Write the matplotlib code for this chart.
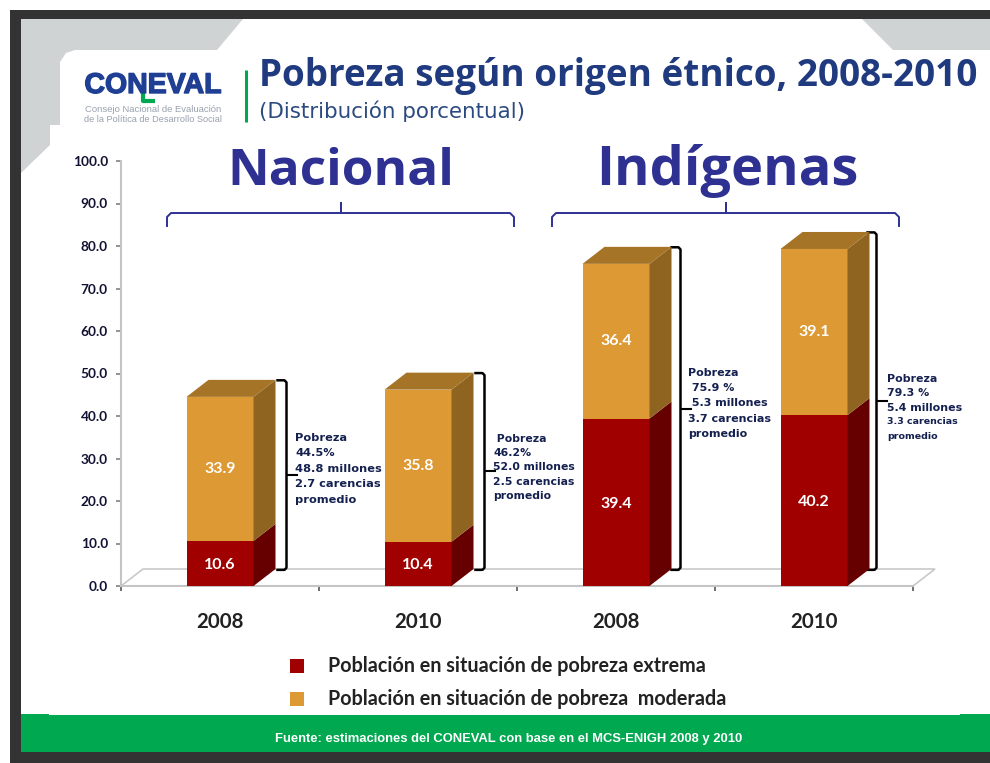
import matplotlib
matplotlib.use('Agg')
import matplotlib.pyplot as plt
from matplotlib.patches import Rectangle, Polygon
import matplotlib.patheffects as pe

# data
years = ['2008', '2010', '2008', '2010']
extrema = [10.6, 10.4, 39.4, 40.2]
moderada = [33.9, 35.8, 36.4, 39.1]
y_ticks = [0, 10, 20, 30, 40, 50, 60, 70, 80, 90, 100]
notas = [
    ['Pobreza', '44.5%', '48.8 millones', '2.7 carencias', 'promedio'],
    [' Pobreza', '46.2%', '52.0 millones', '2.5 carencias', 'promedio'],
    ['Pobreza', ' 75.9 %', ' 5.3 millones', '3.7 carencias', 'promedio'],
    ['Pobreza', '79.3 %', '5.4 millones', '3.3 carencias', 'promedio'],
]
grupos = ['Nacional', 'Indígenas']
leyenda = ['Población en situación de pobreza extrema',
           'Población en situación de pobreza  moderada']

ROJO, ROJO_LADO = '#a00000', '#660000'
NARANJA, NARANJA_LADO, NARANJA_TOPE = '#dd9933', '#8f6420', '#a67426'
AZUL = '#2e3192'
TITULO = '#1f3a7f'
VERDE = '#00a94f'
MARCO = '#333333'
GRIS = '#cfd3d4'

fig = plt.figure(figsize=(9.9, 7.63), dpi=100, facecolor='white')

# page decoration, in pixels of the slide
bg = fig.add_axes([0, 0, 1, 1], zorder=0)
bg.set_xlim(0, 990)
bg.set_ylim(763, 0)
bg.axis('off')

bg.add_patch(Rectangle((10, 10), 980, 753, fc=MARCO, ec='none'))
bg.add_patch(Rectangle((21, 19), 969, 733, fc='white', ec='none'))
bg.add_patch(Polygon([(21, 19), (243, 19), (217, 50), (75, 50), (66, 53), (60, 62),
                      (60, 125), (50, 125), (50, 145), (21, 173)], fc=GRIS, ec='none'))
bg.add_patch(Polygon([(862, 19), (990, 19), (990, 50), (893, 50)], fc=GRIS, ec='none'))
bg.add_patch(Rectangle((21, 714), 969, 38, fc=VERDE, ec='none'))
bg.add_patch(Rectangle((49, 712), 911, 3, fc='white', ec='none'))

# logo
bg.text(153, 93, 'CONEVAL', fontsize=20.5, fontweight='bold', color='#1f3f94',
        family='Liberation Sans', ha='center', va='baseline',
        path_effects=[pe.withStroke(linewidth=1, foreground='#1f3f94')])
bg.plot([143, 143, 155], [88, 101, 101], color=VERDE, lw=3, solid_capstyle='butt')
bg.text(153, 109, 'Consejo Nacional de Evaluación', fontsize=6.8, color='#9aa0ad',
        family='Liberation Sans', ha='center', va='center')
bg.text(153, 119, 'de la Política de Desarrollo Social', fontsize=6.6, color='#9aa0ad',
        family='Liberation Sans', ha='center', va='center')
bg.plot([246, 246], [70, 122], color=VERDE, lw=2.2, solid_capstyle='butt')

bg.text(259, 86, 'Pobreza según origen étnico, 2008-2010', fontsize=26.6, fontweight='bold',
        color=TITULO, family='Open Sans', ha='left', va='baseline')
bg.text(259, 118, '(Distribución porcentual)', fontsize=15.4, color='#2b4a80',
        family='DejaVu Sans', ha='left', va='baseline')

# group titles and their blue braces
for nombre, size, xc, xt, x0, x1 in zip(grupos, [37, 39], [341, 726], [341, 727], [167, 552], [514, 899]):
    bg.text(xt, 185, nombre, fontsize=size, fontweight='bold', color=AZUL,
            family='Open Sans', ha='center', va='baseline')
    bg.plot([x0, x0, x0 + 4, xc, xc, xc, x1 - 4, x1, x1], [226, 217, 213, 213, 203, 213, 213, 217, 226],
            color=AZUL, lw=1.4)

# legend and source
for nombre, col, y in zip(leyenda, [ROJO, NARANJA], [666, 699]):
    bg.add_patch(Rectangle((289.5, y - 7), 14, 14, fc=col, ec='none'))
    bg.text(328, y, nombre, fontsize=14.2, fontweight='bold', color='#222222',
            family='Lato', ha='left', va='center')
bg.text(509, 739, 'Fuente: estimaciones del CONEVAL con base en el MCS-ENIGH 2008 y 2010',
        fontsize=9.4, fontweight='bold', color='white', family='Liberation Sans',
        ha='center', va='center')

# chart: one x unit is a 198 px slot, y axis 4.25 px per point
ax = fig.add_axes([121 / 990, (763 - 586) / 763, 792 / 990, 425 / 763], zorder=1)
ax.patch.set_alpha(0)
ax.set_xlim(0, 4)
ax.set_ylim(0, 100)
for s in ['top', 'right']:
    ax.spines[s].set_visible(False)
for s in ['left', 'bottom']:
    ax.spines[s].set_color('#c4c4c4')
    ax.spines[s].set_linewidth(1.5)

dx = 22 / 198
dy = 4.0
ancho = 67 / 198
px = 1 / 198

# floor
ax.add_patch(Polygon([(0, 0), (dx, dy), (4 + dx, dy), (4, 0)], closed=True, fc='white',
                     ec='#c9c9c9', lw=1.2, clip_on=False, zorder=1))

pos = [i + 0.5 for i in range(4)]
ax.bar(pos, extrema, ancho, color=ROJO, zorder=3)
ax.bar(pos, moderada, ancho, bottom=extrema, color=NARANJA, zorder=3)

for i in range(4):
    x1 = pos[i] + ancho / 2
    x0 = pos[i] - ancho / 2
    base = extrema[i]
    top = extrema[i] + moderada[i]
    ax.fill([x1, x1 + dx, x1 + dx, x1], [0, dy, base + dy, base], color=ROJO_LADO, lw=0, zorder=3, clip_on=False)
    ax.fill([x1, x1 + dx, x1 + dx, x1], [base, base + dy, top + dy, top], color=NARANJA_LADO, lw=0, zorder=3, clip_on=False)
    ax.fill([x0, x1, x1 + dx, x0 + dx], [top, top, top + dy, top + dy], color=NARANJA_TOPE, lw=0, zorder=3, clip_on=False)

    ax.text(pos[i], base / 2 - 0.3, '%.1f' % extrema[i], color='white', fontsize=11.5,
            fontweight='bold', family='Lato', ha='center', va='center', zorder=4)
    ax.text(pos[i], base + moderada[i] / 2, '%.1f' % moderada[i], color='white', fontsize=11.5,
            fontweight='bold', family='Lato', ha='center', va='center', zorder=4)

    # black brace from the floor to the top of the bar
    sep = [33, 33, 31, 29][i] * px
    bx = x1 + sep
    y_top = top + dy - 0.1
    y_bot = dy - 0.2
    y_mid = (y_top + y_bot) / 2
    ax.plot([bx - 9 * px, bx - 2 * px, bx, bx, bx - 2 * px, bx - 9 * px],
            [y_top, y_top, y_top - 0.5, y_bot + 0.5, y_bot, y_bot],
            color='black', lw=1.8, solid_joinstyle='round', clip_on=False, zorder=2)
    ax.plot([bx, bx + 10 * px], [y_mid, y_mid], color='black', lw=1.5, clip_on=False, zorder=2)

# side notes, first line centre in px then line step
nota_x = [295, 493, 688, 887]
nota_y = [438, 439, 373, 379]
nota_paso = [15.4, 14.2, 15.2, 14.3]
nota_size = [8.2, 7.8, 8.0, 7.9]
for i, lineas in enumerate(notas):
    for j, linea in enumerate(lineas):
        size = 6.8 if i == 3 and j >= 3 else nota_size[i]
        bg.text(nota_x[i], nota_y[i] + j * nota_paso[i], linea, fontsize=size, fontweight='bold',
                color='#14204f', family='DejaVu Sans', ha='left', va='center', zorder=5)

ax.set_yticks(y_ticks)
ax.set_yticklabels(['%.1f' % v for v in y_ticks], fontsize=9.8, fontweight='bold',
                   family='Lato', color='#111133')
ax.tick_params(axis='y', length=3.6, width=1.2, color='#808080', pad=5.8)
ax.set_xticks(range(5))
ax.set_xticklabels([])
ax.tick_params(axis='x', which='major', length=3.6, width=1.2, color='#555555')
ax.set_xticks(pos, minor=True)
ax.set_xticklabels(years, minor=True, fontsize=14.8, fontweight='bold', family='Lato', color='#222222')
ax.tick_params(axis='x', which='minor', length=0, pad=19)

fig.savefig('out.png', dpi=100)
